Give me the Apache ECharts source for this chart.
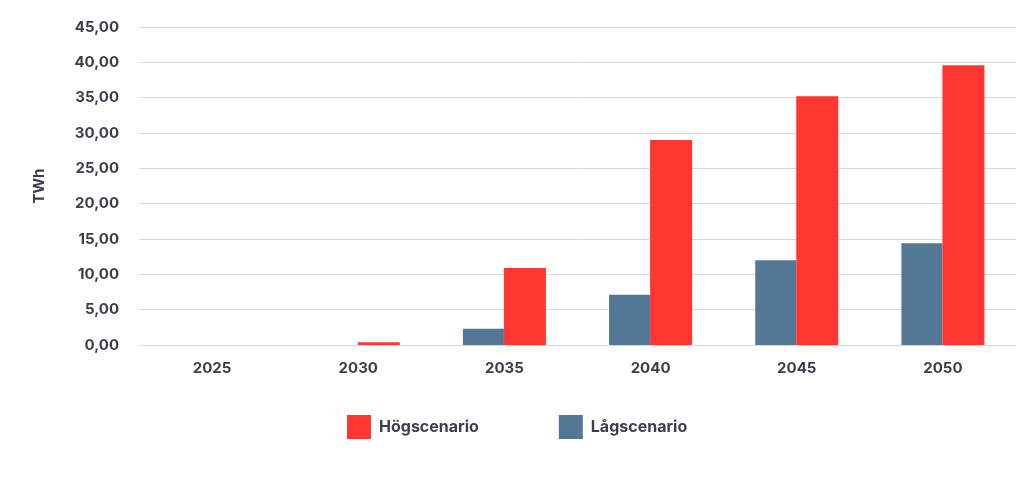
<!DOCTYPE html>
<html><head><meta charset="utf-8">
<script src="https://cdn.jsdelivr.net/npm/echarts@6/dist/echarts.min.js"></script>
<style>html,body{margin:0;padding:0;background:#fff}#c{width:1024px;height:478px}</style>
</head><body><div id="c"></div>
<script>
const categories = ['2025','2030','2035','2040','2045','2050'];
const lagScenario = [null, null, 2.3, 7.1, 12.0, 14.4];
const hogScenario = [null, 0.4, 10.9, 29.0, 35.2, 39.6];
const seriesNames = ['Högscenario','Lågscenario'];
const yTicks = {min:0, max:45, interval:5};

const txt = '#3a3f4b';
const font = 'Inter';
const chart = echarts.init(document.getElementById('c'));
chart.setOption({
  animation:false,
  textStyle:{fontFamily:font},
  grid:{left:139, right:8, top:27, bottom:133, containLabel:false},
  legend:{
    data:seriesNames, left:342, top:410,
    itemWidth:24, itemHeight:24, itemGap:80, icon:'rect',
    textStyle:{fontFamily:font, fontSize:16, fontWeight:700, color:txt, padding:[0,0,0,3]}
  },
  xAxis:{
    type:'category', data:categories,
    axisLine:{show:true, lineStyle:{color:'#d6d6d6', width:1}},
    axisTick:{show:false},
    axisLabel:{color:txt, fontSize:15, fontWeight:700, margin:16, fontFamily:font}
  },
  yAxis:{
    type:'value', min:yTicks.min, max:yTicks.max, interval:yTicks.interval,
    name:'TWh', nameLocation:'middle', nameGap:92, nameRotate:90,
    nameTextStyle:{color:txt, fontSize:15, fontWeight:700, fontFamily:font},
    axisLine:{show:false}, axisTick:{show:false},
    splitLine:{lineStyle:{color:'#d9d9d9', width:1}},
    axisLabel:{color:txt, fontSize:15, fontWeight:700, margin:20, fontFamily:font,
      formatter:v=>v.toFixed(2).replace('.',',')}
  },
  series:[
    {name:seriesNames[1], type:'bar', data:lagScenario, barWidth:41, barGap:'0%',
     itemStyle:{color:'#537896'}},
    {name:seriesNames[0], type:'bar', data:hogScenario, barWidth:42, barGap:'0%',
     itemStyle:{color:'#ff3730'}}
  ]
});
</script></body></html>
